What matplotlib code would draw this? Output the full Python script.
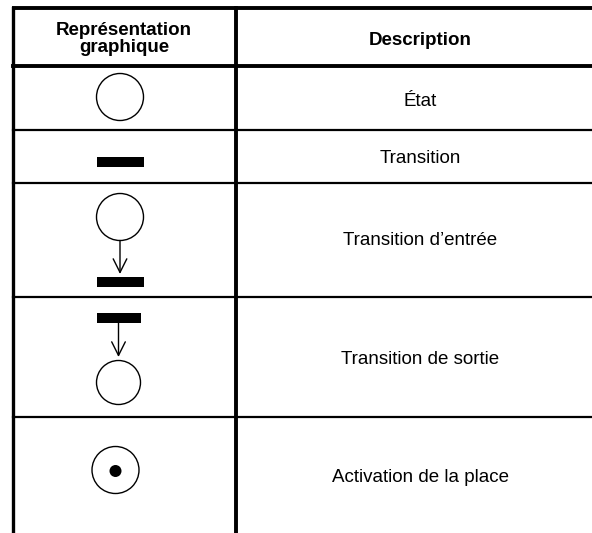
import matplotlib.pyplot as plt
from matplotlib.patches import Circle, Rectangle

plt.rcParams["font.family"] = ["Liberation Sans", "DejaVu Sans"]

# table content
header_left = "Représentation\ngraphique"
header_right = "Description"
descriptions = [
    "État",
    "Transition",
    "Transition d\u2019entrée",
    "Transition de sortie",
    "Activation de la place",
]

# layout (pixel coordinates, y down)
W, H = 592, 533
left_x, mid_x = 13, 236
top_y, head_y = 8, 66
row_lines = [130, 183, 297, 417]
text_base = [45, 106, 163, 245, 364, 482]
sym_x = 120
desc_x = 420
FS = 13.5

fig = plt.figure(figsize=(W / 100, H / 100), dpi=100)
ax = fig.add_axes([0, 0, 1, 1])
ax.set_xlim(0, W)
ax.set_ylim(H, 0)
ax.axis("off")

# grid
ax.plot([left_x - 1, W], [top_y, top_y], color="black", lw=2.8, solid_capstyle="butt")
ax.plot([left_x, W], [head_y, head_y], color="black", lw=2.8)
for y in row_lines:
    ax.plot([left_x, W], [y, y], color="black", lw=1.6)
ax.plot([left_x, left_x], [top_y, H], color="black", lw=2.4)
ax.plot([mid_x, mid_x], [top_y, H], color="black", lw=2.8)

# header
ax.text(124, 39, header_left, ha="center", va="center", fontsize=FS,
        fontweight="bold", linespacing=0.95)
ax.text(desc_x, text_base[0], header_right, ha="center", va="baseline",
        fontsize=FS, fontweight="bold")
for txt, yb in zip(descriptions, text_base[1:]):
    ax.text(desc_x, yb, txt, ha="center", va="baseline", fontsize=FS)


def place(x, y, r=23.5):
    ax.add_patch(Circle((x, y), r, fill=False, ec="black", lw=1.0))


def trans(x, y, w=47, h=10):
    ax.add_patch(Rectangle((x - w / 2, y - h / 2), w, h, fc="black", ec="none"))


def arrow(x, y0, y1):
    ax.annotate("", xy=(x, y1), xytext=(x, y0),
                arrowprops=dict(arrowstyle="->,head_length=0.7,head_width=0.35",
                                color="black", lw=1.0, shrinkA=0, shrinkB=0,
                                mutation_scale=14))


# row 1: place
place(sym_x, 97)
# row 2: transition
trans(sym_x, 162)
# row 3: input transition
place(sym_x, 217)
arrow(sym_x, 240.5, 274)
trans(sym_x, 281.5)
# row 4: output transition
trans(118.5, 318, w=44)
arrow(118.5, 323, 357)
ax.add_patch(Circle((118.5, 382.5), 22, fill=False, ec="black", lw=1.0))
# row 5: marked place
place(115.5, 470)
ax.add_patch(Circle((115.5, 471), 6, fc="black", ec="none"))

fig.savefig("out.png", dpi=100, facecolor="white")
